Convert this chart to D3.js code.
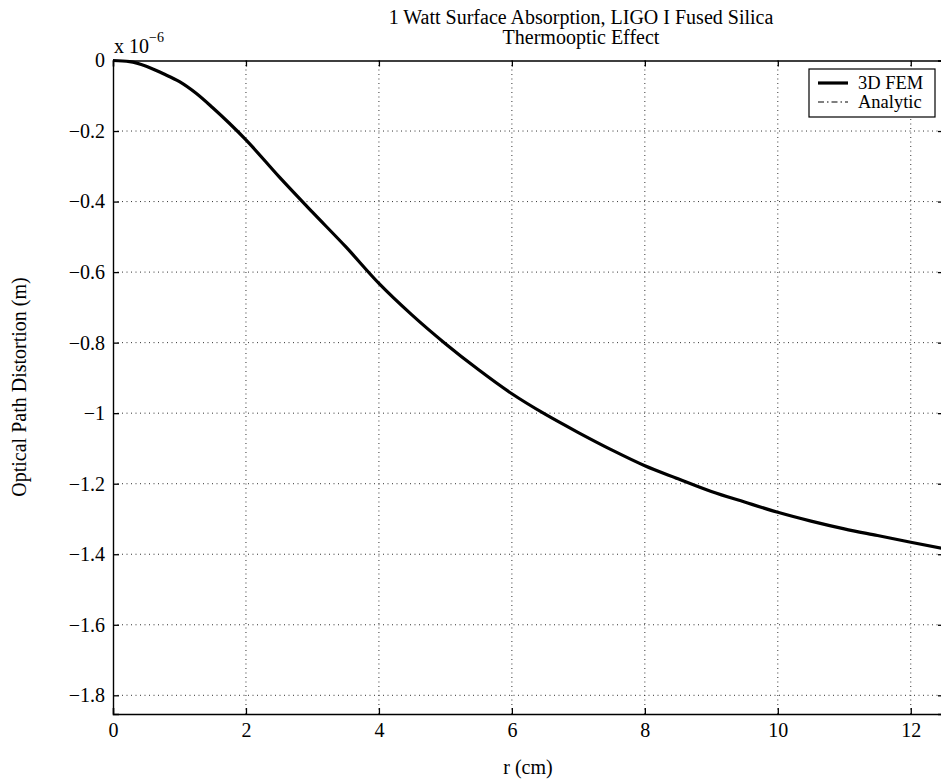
<!DOCTYPE html>
<html>
<head>
<meta charset="utf-8">
<script src="https://cdn.jsdelivr.net/npm/d3@7"></script>
<style>
  body { margin: 0; background: #fff; }
  svg { display: block; }
  text { font-family: "Liberation Serif", "Times New Roman", serif; fill: #000; }
</style>
</head>
<body>
<svg id="chart" width="941" height="784"></svg>
<script>
// r (cm) and optical path distortion (x 1e-6 m)
const rValues = [0, 0.25, 0.5, 0.75, 1.0, 1.25, 1.5, 1.75, 2.0, 2.5, 3.0, 3.5, 4.0, 4.5, 5.0,
  5.5, 6.0, 6.5, 7.0, 7.5, 8.0, 8.5, 9.0, 9.5, 10, 10.5, 11, 11.5, 12, 12.5];
const femValues = [0, -0.003, -0.016, -0.037, -0.060, -0.093, -0.134, -0.178, -0.225, -0.330,
  -0.430, -0.528, -0.632, -0.722, -0.803, -0.877, -0.945, -1.003, -1.055, -1.104, -1.149,
  -1.186, -1.222, -1.252, -1.281, -1.306, -1.328, -1.347, -1.366, -1.384];
// analytic curve sits right on top of the FEM one
const analyticValues = femValues.slice();

const xTicks = [0, 2, 4, 6, 8, 10, 12];
const yTicks = [0, -0.2, -0.4, -0.6, -0.8, -1, -1.2, -1.4, -1.6, -1.8];
const seriesNames = ["3D FEM", "Analytic"];

const svg = d3.select("#chart");
const mLeft = 113, mRight = 944, mTop = 60.5, mBottom = 714;

const x = d3.scaleLinear().domain([0, 12.5]).range([mLeft, mRight]);
const y = d3.scaleLinear().domain([-1.853, 0]).range([mBottom, mTop]);

const fmt = d => d === 0 ? "0" : String(d).replace("-", "\u2212");

// dotted grid
const grid = svg.append("g");
grid.selectAll(".gx").data(xTicks.slice(1)).enter().append("line")
  .attr("x1", d => x(d)).attr("x2", d => x(d))
  .attr("y1", mTop).attr("y2", mBottom)
  .attr("stroke", "#333").attr("stroke-width", 1).attr("stroke-dasharray", "1,3.5");
grid.selectAll(".gy").data(yTicks.slice(1)).enter().append("line")
  .attr("x1", mLeft).attr("x2", mRight)
  .attr("y1", d => y(d)).attr("y2", d => y(d))
  .attr("stroke", "#333").attr("stroke-width", 1).attr("stroke-dasharray", "1,3.5");

// axes with inward ticks
const axB = svg.append("g").attr("transform", `translate(0,${mBottom})`)
  .call(d3.axisBottom(x).tickValues(xTicks).tickSize(-6).tickPadding(14).tickFormat(fmt));
const axL = svg.append("g").attr("transform", `translate(${mLeft},0)`)
  .call(d3.axisLeft(y).tickValues(yTicks).tickSize(-6).tickPadding(8).tickFormat(fmt));
svg.append("g").attr("transform", `translate(0,${mTop})`)
  .call(d3.axisTop(x).tickValues(xTicks).tickSize(-6).tickFormat(""));
svg.append("g").attr("transform", `translate(${mRight},0)`)
  .call(d3.axisRight(y).tickValues(yTicks).tickSize(-6).tickFormat(""));

svg.selectAll(".domain").attr("stroke", "#000").attr("stroke-width", 1.4);
svg.selectAll(".tick line").attr("stroke", "#000").attr("stroke-width", 1.3);
svg.selectAll(".tick text").attr("font-size", 20).attr("fill", "#000")
  .style("font-family", '"Liberation Serif", serif');
axB.selectAll(".tick text").attr("dy", "0.45em");

// curves
const line = vals => d3.line().curve(d3.curveMonotoneX)
  .x((d, i) => x(rValues[i])).y(d => y(d))(vals);
svg.append("path").attr("d", line(femValues))
  .attr("fill", "none").attr("stroke", "#000").attr("stroke-width", 3.2)
  .attr("stroke-linejoin", "round");
svg.append("path").attr("d", line(analyticValues))
  .attr("fill", "none").attr("stroke", "#000").attr("stroke-width", 1)
  .attr("stroke-dasharray", "6,3,1.5,3");

// exponent
const ex = svg.append("text").attr("x", 114).attr("y", 53).attr("font-size", 20);
ex.append("tspan").text("x 10");
ex.append("tspan").attr("font-size", 14).attr("dy", -11).text("\u22126");

// titles
svg.append("text").attr("x", 581).attr("y", 24).attr("text-anchor", "middle")
  .attr("font-size", 20).text("1 Watt Surface Absorption, LIGO I Fused Silica");
svg.append("text").attr("x", 581).attr("y", 44).attr("text-anchor", "middle")
  .attr("font-size", 20).text("Thermooptic Effect");
svg.append("text").attr("x", 528).attr("y", 774).attr("text-anchor", "middle")
  .attr("font-size", 20).text("r (cm)");
svg.append("text").attr("transform", "translate(26,387) rotate(-90)")
  .attr("text-anchor", "middle").attr("font-size", 20).text("Optical Path Distortion (m)");

// legend
const lg = svg.append("g");
lg.append("rect").attr("x", 809).attr("y", 69).attr("width", 126).attr("height", 48)
  .attr("fill", "#fff").attr("stroke", "#000").attr("stroke-width", 1.2);
lg.selectAll(".ll").data(seriesNames).enter().append("line")
  .attr("x1", 818).attr("x2", 848)
  .attr("y1", (d, i) => 83 + i * 19).attr("y2", (d, i) => 83 + i * 19)
  .attr("stroke", "#000")
  .attr("stroke-width", (d, i) => i === 0 ? 3.2 : 1.2)
  .attr("stroke-dasharray", (d, i) => i === 0 ? null : "6,3,1.5,3");
lg.selectAll(".lt").data(seriesNames).enter().append("text")
  .attr("x", 858).attr("y", (d, i) => 89 + i * 19)
  .attr("font-size", 18.5).text(d => d);
</script>
</body>
</html>
